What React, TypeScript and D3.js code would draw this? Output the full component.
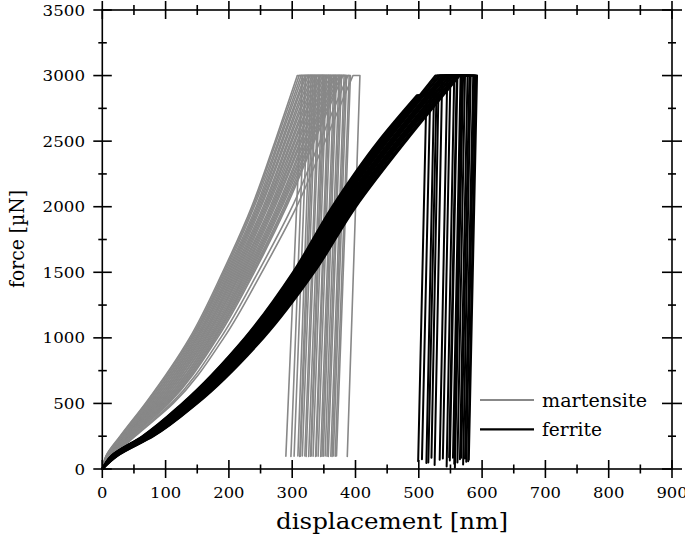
import React from "react";
import * as d3 from "d3";

const width = 685,
  height = 540;
const plot = { left: 102.3, right: 672, top: 10, bottom: 469 };

const xTicks = [0, 100, 200, 300, 400, 500, 600, 700, 800, 900];
const xMinor = [50, 150, 250, 350, 450, 550, 650, 750, 850];
const yTicks = [0, 500, 1000, 1500, 2000, 2500, 3000, 3500];
const yMinor = [250, 750, 1250, 1750, 2250, 2750, 3250];

// martensite: displacement [nm] at these loads, then hold end / unload end
const martensiteLevels = [100, 250, 500, 1000, 1500, 2000, 2500, 3000];
const martensiteLoading = [
  [6, 28, 68, 138, 190, 236, 273, 308],
  [6, 29, 69, 140, 192, 238, 275, 311],
  [7, 30, 71, 142, 194, 240, 278, 314],
  [7, 30, 72, 143, 196, 243, 280, 317],
  [7, 31, 74, 145, 198, 245, 283, 320],
  [8, 32, 75, 147, 200, 247, 285, 322],
  [8, 33, 77, 149, 202, 249, 288, 325],
  [8, 34, 78, 150, 204, 251, 290, 328],
  [9, 34, 80, 152, 206, 254, 293, 331],
  [9, 35, 81, 154, 208, 256, 295, 334],
  [10, 36, 83, 156, 210, 258, 298, 337],
  [10, 37, 84, 157, 212, 260, 300, 340],
  [10, 38, 86, 159, 214, 262, 303, 343],
  [11, 38, 87, 161, 216, 265, 305, 345],
  [11, 39, 89, 163, 218, 267, 308, 348],
  [11, 40, 90, 164, 220, 269, 310, 351],
  [12, 41, 92, 166, 222, 271, 313, 354],
  [12, 42, 93, 168, 224, 273, 315, 357],
  [12, 42, 95, 170, 226, 276, 318, 360],
  [13, 43, 96, 171, 228, 278, 320, 363],
  [13, 44, 98, 173, 230, 280, 323, 366],
  [13, 45, 99, 175, 232, 282, 325, 368],
  [14, 46, 101, 177, 234, 284, 328, 371],
  [14, 46, 102, 178, 236, 287, 330, 374],
  [15, 47, 104, 180, 238, 289, 333, 377],
  [15, 48, 105, 182, 240, 291, 335, 380],
  [17, 52, 112, 192, 252, 307, 352, 396],
  [16, 50, 109, 187, 246, 300, 344, 388],
];
const martensiteHold = [316, 321, 330, 326, 333, 338, 336, 344, 342, 350, 348, 354, 352, 358, 362, 360, 366, 370, 368, 374, 378, 376, 382, 386, 384, 390, 407, 392];
const martensiteUnload = [290, 298, 309, 303, 312, 316, 313, 322, 320, 329, 326, 333, 330, 337, 341, 338, 345, 349, 347, 352, 357, 355, 361, 365, 363, 368, 387, 370];
const martensiteEndForce = [98, 96, 100, 97, 95, 99, 98, 96, 100, 97, 95, 98, 99, 96, 97, 100, 95, 98, 97, 99, 96, 98, 97, 100, 96, 98, 95, 99];

// ferrite: displacement at these loads, then peak, hold and unload
const ferriteLevels = [100, 250, 500, 1000, 1500, 2000, 2500];
const ferriteLoading = [
  [14, 63, 126, 225, 301, 363, 436],
  [14, 64, 127, 226, 303, 365, 438],
  [15, 65, 128, 228, 304, 367, 440],
  [15, 66, 130, 229, 306, 369, 443],
  [16, 67, 131, 231, 308, 371, 445],
  [16, 68, 132, 232, 309, 372, 447],
  [17, 68, 133, 234, 311, 374, 449],
  [17, 69, 134, 235, 313, 376, 451],
  [18, 70, 136, 237, 315, 378, 454],
  [18, 71, 137, 238, 316, 380, 456],
  [19, 72, 138, 240, 318, 382, 458],
  [19, 73, 139, 241, 320, 384, 460],
  [20, 74, 140, 243, 321, 386, 462],
  [20, 75, 142, 244, 323, 388, 465],
  [21, 76, 143, 246, 325, 390, 467],
  [21, 77, 144, 247, 326, 392, 469],
  [22, 77, 145, 249, 328, 393, 471],
  [22, 78, 146, 250, 330, 395, 473],
  [23, 79, 148, 252, 332, 397, 476],
  [23, 80, 149, 253, 333, 399, 478],
  [24, 81, 150, 255, 335, 401, 480],
  [15, 65, 129, 228, 305, 368, 442],
];
const ferritePeakDisp = [497, 499, 502, 505, 526, 529, 532, 534, 537, 539, 541, 543, 545, 548, 550, 553, 555, 558, 560, 562, 565, 508];
const ferritePeakForce = [2850, 2850, 2850, 2860, 3000, 3000, 3000, 3000, 3000, 3000, 3000, 3000, 3000, 3000, 3000, 3000, 3000, 3000, 3000, 3000, 3000, 2870];
const ferriteHold = [512, 518, 524, 531, 537, 545, 550, 556, 561, 566, 573, 577, 582, 590, 560, 570, 586, 592, 568, 580, 588, 528];
const ferriteUnload = [499, 505, 512, 520, 525, 533, 538, 544, 549, 554, 561, 565, 570, 578, 548, 557, 573, 579, 556, 567, 575, 515];
const ferriteEndForce = [60, 75, 45, 85, 30, 70, 80, 20, 65, 85, 50, 75, 35, 60, 90, 10, 80, 70, 40, 85, 55, 50];

const legendItems = [
  { label: "martensite", color: "#888888" },
  { label: "ferrite", color: "#000000" },
];

const serif = "DejaVu Serif, Liberation Serif, serif";

export default function App() {
  const x = d3.scaleLinear().domain([0, 900]).range([plot.left, plot.right]);
  const y = d3.scaleLinear().domain([0, 3500]).range([plot.bottom, plot.top]);
  const smooth = d3
    .line<[number, number]>()
    .x((d) => x(d[0]))
    .y((d) => y(d[1]))
    .curve(d3.curveMonotoneY);
  const straight = d3
    .line<[number, number]>()
    .x((d) => x(d[0]))
    .y((d) => y(d[1]));

  // loading part smoothed, hold + unload straight, joined into one path
  const martensitePaths = martensiteLoading.map((row, i) => {
    const load: [number, number][] = [[0, 0]];
    row.forEach((d, j) => load.push([d, martensiteLevels[j]]));
    const rest: [number, number][] = [
      [row[row.length - 1], 3000],
      [martensiteHold[i], 3000],
      [martensiteUnload[i], martensiteEndForce[i]],
    ];
    return (smooth(load) || "") + (straight(rest) || "").replace(/^M/, "L");
  });

  const ferritePaths = ferriteLoading.map((row, i) => {
    const load: [number, number][] = [[0, 0]];
    row.forEach((d, j) => load.push([d, ferriteLevels[j]]));
    load.push([ferritePeakDisp[i], ferritePeakForce[i]]);
    const rest: [number, number][] = [
      [ferritePeakDisp[i], ferritePeakForce[i]],
      [ferriteHold[i], ferritePeakForce[i]],
      [ferriteUnload[i], ferriteEndForce[i]],
    ];
    return (smooth(load) || "") + (straight(rest) || "").replace(/^M/, "L");
  });

  const axisStroke = { stroke: "#000", strokeWidth: 1.6 };

  return (
    <svg
      width={width}
      height={height}
      style={{ position: "absolute", left: 0, top: 0, background: "#fff" }}
    >
      <g fill="none" strokeLinejoin="round" strokeLinecap="round">
        {martensitePaths.map((p, i) => (
          <path key={"m" + i} d={p} stroke="#888888" strokeWidth={1.6} />
        ))}
        {ferritePaths.map((p, i) => (
          <path key={"f" + i} d={p} stroke="#000" strokeWidth={2} />
        ))}
      </g>

      {/* frame */}
      <rect
        x={plot.left}
        y={plot.top}
        width={plot.right - plot.left}
        height={plot.bottom - plot.top}
        fill="none"
        {...axisStroke}
      />

      {xTicks.map((t) => (
        <g key={"xt" + t} {...axisStroke}>
          <line x1={x(t)} x2={x(t)} y1={plot.bottom - 9} y2={plot.bottom + 9} />
          <line x1={x(t)} x2={x(t)} y1={plot.top - 9} y2={plot.top + 9} />
        </g>
      ))}
      {xMinor.map((t) => (
        <g key={"xm" + t} {...axisStroke}>
          <line x1={x(t)} x2={x(t)} y1={plot.bottom - 4.5} y2={plot.bottom + 4.5} />
          <line x1={x(t)} x2={x(t)} y1={plot.top - 5} y2={plot.top + 5} />
        </g>
      ))}
      {yTicks.map((t) => (
        <g key={"yt" + t} {...axisStroke}>
          <line x1={plot.left - 9} x2={plot.left + 9.5} y1={y(t)} y2={y(t)} />
          <line x1={plot.right - 10} x2={plot.right + 10} y1={y(t)} y2={y(t)} />
        </g>
      ))}
      {yMinor.map((t) => (
        <g key={"ym" + t} {...axisStroke}>
          <line x1={plot.left - 4} x2={plot.left + 4.5} y1={y(t)} y2={y(t)} />
          <line x1={plot.right - 4} x2={plot.right + 4} y1={y(t)} y2={y(t)} />
        </g>
      ))}

      <g fontFamily={serif} fontSize={15} fill="#000">
        {xTicks.map((t) => {
          const s = String(t);
          return (
            <text
              key={"xl" + t}
              x={x(t)}
              y={498}
              textAnchor="middle"
              textLength={s.length * 10.4}
              lengthAdjust="spacingAndGlyphs"
            >
              {s}
            </text>
          );
        })}
        {yTicks.map((t) => {
          const s = String(t);
          return (
            <text
              key={"yl" + t}
              x={85}
              y={y(t) + 5.6}
              textAnchor="end"
              textLength={s.length * 10.6}
              lengthAdjust="spacingAndGlyphs"
            >
              {s}
            </text>
          );
        })}
      </g>

      <text
        x={392}
        y={529}
        textAnchor="middle"
        fontFamily={serif}
        fontSize={23}
        textLength={232}
        lengthAdjust="spacingAndGlyphs"
      >
        displacement [nm]
      </text>
      <text
        transform={`translate(24,239) rotate(-90)`}
        textAnchor="middle"
        fontFamily={serif}
        fontSize={21}
        textLength={98}
        lengthAdjust="spacingAndGlyphs"
      >
        force [µN]
      </text>

      {legendItems.map((item, i) => (
        <g key={item.label} transform={`translate(480, ${400 + i * 29.3})`}>
          <line x1={0} x2={54} y1={0} y2={0} stroke={item.color} strokeWidth={2.2} />
          <text
            x={62}
            y={6.5}
            fontFamily={serif}
            fontSize={19}
            textLength={i === 0 ? 105 : 60}
            lengthAdjust="spacingAndGlyphs"
          >
            {item.label}
          </text>
        </g>
      ))}
    </svg>
  );
}
